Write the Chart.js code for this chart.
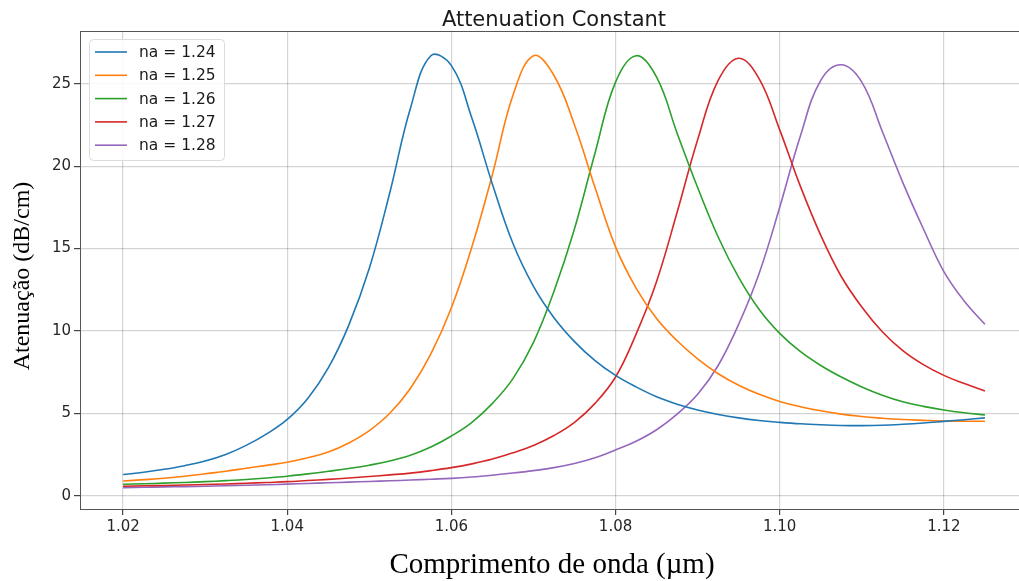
<!DOCTYPE html>
<html>
<head>
<meta charset="utf-8">
<script src="https://cdn.jsdelivr.net/npm/chart.js@4.4.1/dist/chart.umd.min.js"></script>
<style>
    html, body { margin: 0; padding: 0; background: #fff; overflow: hidden; }
    #wrap { width: 1040px; height: 581px; }
</style>
</head>
<body>
<div id="wrap"><canvas id="att-chart" width="1040" height="581"></canvas></div>
<script>
// wavelength grid (um) and attenuation (dB/cm)
const wavelengths = [
    1.0200, 1.0225, 1.0250, 1.0275, 1.0300, 1.0325, 1.0350, 1.0375, 1.0400, 1.0425,
    1.0450, 1.0475, 1.0500, 1.0525, 1.0550, 1.0575, 1.0600, 1.0625, 1.0650, 1.0675,
    1.0700, 1.0725, 1.0750, 1.0775, 1.0800, 1.0825, 1.0850, 1.0875, 1.0900, 1.0925,
    1.0950, 1.0975, 1.1000, 1.1025, 1.1050, 1.1075, 1.1100, 1.1125, 1.1150, 1.1175,
    1.1200, 1.1225, 1.1250
];

const na124 = [
    1.28, 1.42, 1.60, 1.82, 2.10, 2.50, 3.05, 3.75, 4.63, 5.9,
    7.75, 10.35, 13.8, 18.4, 23.5, 26.7, 26.1, 22.9, 18.9, 15.3,
    12.7, 10.8, 9.35, 8.2, 7.3, 6.6, 6.0, 5.55, 5.2, 4.93,
    4.72, 4.56, 4.45, 4.36, 4.3, 4.26, 4.25, 4.27, 4.33, 4.41,
    4.51, 4.61, 4.72
];
const na125 = [
    0.89, 0.97, 1.06, 1.18, 1.33, 1.48, 1.66, 1.84, 2.03, 2.30,
    2.65, 3.20, 3.95, 5.0, 6.5, 8.6, 11.4, 15.1, 19.5, 24.3,
    26.7, 25.5, 22.5, 18.7, 15.1, 12.6, 10.75, 9.4, 8.3, 7.4,
    6.7, 6.15, 5.72, 5.4, 5.15, 4.95, 4.8, 4.7, 4.62, 4.57,
    4.53, 4.52, 4.52
];
const na126 = [
    0.69, 0.72, 0.76, 0.80, 0.85, 0.91, 0.98, 1.07, 1.18, 1.32,
    1.48, 1.65, 1.85, 2.10, 2.45, 2.95, 3.62, 4.45, 5.6, 7.1,
    9.3, 12.4, 16.2, 20.8, 25.1, 26.7, 25.4, 22.0, 18.7, 15.7,
    13.25, 11.3, 9.85, 8.75, 7.9, 7.2, 6.6, 6.1, 5.7, 5.42,
    5.2, 5.03, 4.9
];
const na127 = [
    0.57, 0.60, 0.62, 0.65, 0.68, 0.71, 0.75, 0.80, 0.85, 0.92,
    0.99, 1.07, 1.16, 1.26, 1.37, 1.52, 1.70, 1.93, 2.22, 2.60,
    3.05, 3.65, 4.45, 5.6, 7.2, 9.8, 13.0, 17.2, 21.6, 25.2,
    26.55, 25.3, 22.2, 18.8, 15.8, 13.3, 11.45, 9.95, 8.8, 7.95,
    7.3, 6.8, 6.35
];
const na128 = [
    0.49, 0.51, 0.53, 0.55, 0.57, 0.60, 0.63, 0.66, 0.70, 0.74,
    0.78, 0.82, 0.86, 0.90, 0.95, 1.0, 1.05, 1.13, 1.24, 1.37,
    1.52, 1.70, 1.95, 2.3, 2.77, 3.3, 4.0, 4.95, 6.15, 7.9,
    10.4, 13.5, 17.5, 21.8, 25.2, 26.15, 25.1, 22.1, 19.0, 16.2,
    13.6, 11.8, 10.4
];

const seriesLabels = ['na = 1.24', 'na = 1.25', 'na = 1.26', 'na = 1.27', 'na = 1.28'];
const seriesValues = [na124, na125, na126, na127, na128];
const seriesColors = ['#1f77b4', '#ff7f0e', '#2ca02c', '#d62728', '#9467bd'];

const xTicks = [1.02, 1.04, 1.06, 1.08, 1.10, 1.12];
const yTicks = [0, 5, 10, 15, 20, 25];

const chartTitle = 'Attenuation Constant';
const xTitle = 'Comprimento de onda (\u00b5m)';
const yTitle = 'Atenuação (dB/cm)';

Chart.defaults.font.family = '"DejaVu Sans", sans-serif';
Chart.defaults.color = '#262626';

// title, axis labels, top spine and the boxed legend
const annotations = {
    id: 'annotations',
    afterDraw(chart) {
        const { ctx, chartArea } = chart;
        ctx.save();

        // top spine
        ctx.strokeStyle = '#555';
        ctx.lineWidth = 1;
        ctx.beginPath();
        ctx.moveTo(chartArea.left, chartArea.top + 0.5);
        ctx.lineTo(chartArea.right, chartArea.top + 0.5);
        ctx.stroke();

        ctx.fillStyle = '#1a1a1a';
        ctx.font = '21px "DejaVu Sans"';
        ctx.textAlign = 'center';
        ctx.textBaseline = 'alphabetic';
        ctx.fillText(chartTitle, (chartArea.left + chartArea.right) / 2, 26);

        ctx.fillStyle = '#000';
        ctx.font = '29px "Liberation Serif", serif';
        ctx.fillText(xTitle, 552, 573);

        ctx.save();
        ctx.translate(29, 276);
        ctx.rotate(-Math.PI / 2);
        ctx.font = '24px "Liberation Serif", serif';
        ctx.fillText(yTitle, 0, 0);
        ctx.restore();

        // legend box
        const bx = 89, by = 39, bw = 135, bh = 121, r = 4;
        ctx.fillStyle = 'rgba(255,255,255,0.85)';
        ctx.strokeStyle = '#dcdcdc';
        ctx.beginPath();
        ctx.roundRect(bx + 0.5, by + 0.5, bw, bh, r);
        ctx.fill();
        ctx.stroke();

        ctx.font = '15.5px "DejaVu Sans"';
        ctx.textAlign = 'left';
        ctx.textBaseline = 'middle';
        seriesLabels.forEach((label, i) => {
            const y = 52 + i * 23.3;
            ctx.strokeStyle = seriesColors[i];
            ctx.lineWidth = 1.6;
            ctx.beginPath();
            ctx.moveTo(95, y);
            ctx.lineTo(127, y);
            ctx.stroke();
            ctx.fillStyle = '#1a1a1a';
            ctx.fillText(label, 139, y + 1);
        });

        ctx.restore();
    }
};

const datasets = seriesValues.map((vals, i) => ({
    label: seriesLabels[i],
    data: wavelengths.map((x, j) => ({ x: x, y: vals[j] })),
    borderColor: seriesColors[i],
    backgroundColor: seriesColors[i],
    borderWidth: 1.6,
    pointRadius: 0,
    tension: 0.4,
    fill: false
}));

new Chart(document.getElementById('att-chart'), {
    type: 'line',
    data: { datasets: datasets },
    plugins: [annotations],
    options: {
        responsive: false,
        animation: false,
        devicePixelRatio: 1,
        layout: { padding: { left: 0, top: 31, right: 12, bottom: 0 } },
        plugins: {
            legend: { display: false },
            title: { display: false },
            tooltip: { enabled: false }
        },
        scales: {
            x: {
                type: 'linear',
                min: 1.01475,
                max: 1.13025,
                afterBuildTicks: (scale) => { scale.ticks = xTicks.map(v => ({ value: v })); },
                afterFit: (scale) => { scale.height = 72; },
                ticks: {
                    font: { size: 15 },
                    color: '#262626',
                    padding: 3,
                    maxRotation: 0,
                    callback: (v) => v.toFixed(2)
                },
                grid: {
                    color: 'rgba(0,0,0,0.17)',
                    lineWidth: 1.2,
                    tickLength: 6,
                    tickColor: '#444'
                },
                border: { display: true, color: '#555', width: 1 }
            },
            y: {
                type: 'linear',
                min: -0.81,
                max: 28.2,
                afterBuildTicks: (scale) => { scale.ticks = yTicks.map(v => ({ value: v })); },
                afterFit: (scale) => { scale.width = 80; },
                ticks: {
                    font: { size: 15 },
                    color: '#262626',
                    padding: 3,
                    callback: (v) => String(v)
                },
                grid: {
                    color: 'rgba(0,0,0,0.17)',
                    lineWidth: 1.2,
                    tickLength: 6,
                    tickColor: '#444'
                },
                border: { display: true, color: '#555', width: 1 }
            }
        }
    }
});
</script>
</body>
</html>
